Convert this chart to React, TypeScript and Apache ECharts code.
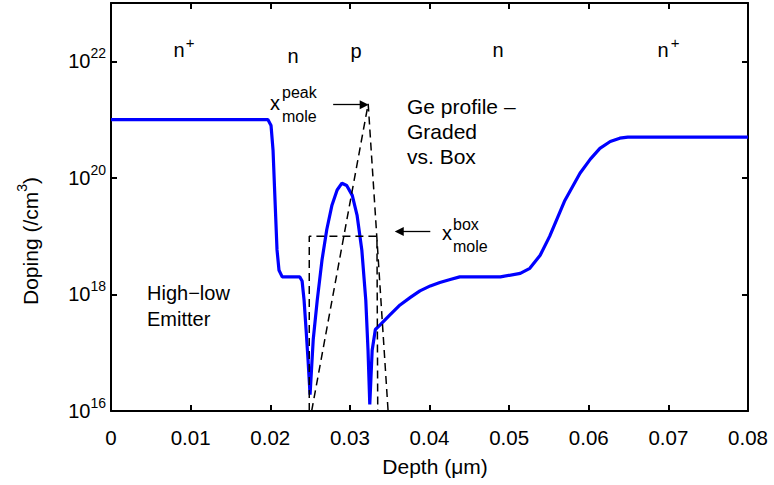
import { useEffect, useRef } from 'react';
import * as echarts from 'echarts';

// Doping profile (depth in µm, doping in /cm^3)
const depthUm = [
  0, 0.0197, 0.0201, 0.02035, 0.0206, 0.02085, 0.0211, 0.0215, 0.0237, 0.024,
  0.02425, 0.0245, 0.02475, 0.025, 0.0254, 0.0259, 0.0265, 0.0271, 0.02775, 0.0284,
  0.029, 0.0296, 0.0303, 0.0309, 0.0315, 0.032, 0.03228, 0.0325, 0.0328, 0.0332,
  0.0338, 0.035, 0.0363, 0.0376, 0.0388, 0.0401, 0.0413, 0.0426, 0.0438, 0.0463,
  0.0489, 0.0514, 0.0526, 0.0539, 0.0551, 0.057, 0.0589, 0.0602, 0.0614, 0.0627,
  0.0639, 0.0649, 0.08,
];
const dopingCm3 = [
  1.0e21, 1.0e21, 7.9e20, 3.0e20, 4.1e19, 5.8e18, 2.6e18, 2.0e18, 2.0e18, 1.7e18,
  7.9e17, 2.5e17, 7.4e16, 1.9e16, 1.7e17, 7.9e17, 3.9e18, 1.3e19, 3.4e19, 6.2e19,
  8.1e19, 7.4e19, 5.0e19, 2.3e19, 5.8e18, 7.9e17, 1.1e17, 1.3e16, 1.1e17, 2.5e17,
  3.0e17, 4.4e17, 6.6e17, 8.9e17, 1.15e18, 1.4e18, 1.6e18, 1.8e18, 2.0e18, 2.0e18,
  2.0e18, 2.3e18, 2.8e18, 4.7e18, 1.0e19, 4.1e19, 1.2e20, 2.1e20, 3.2e20, 4.2e20,
  4.8e20, 5.0e20, 5.0e20,
];

// Ge profiles (dashed): box and graded (triangle)
const boxDepth = [0.0249, 0.0249, 0.0334, 0.0335];
const boxLevel = [1e16, 1.0e19, 1.0e19, 1e16];
const gradedDepth = [0.0252, 0.0323, 0.0348];
const gradedLevel = [1e16, 1.86e21, 1e16];

// Arrows (data coordinates): [fromDepth, fromLevel, toDepth, toLevel]
const peakArrow = [0.0279, 1.8e21, 0.0318, 1.8e21];
const boxArrow = [0.0401, 1.2e19, 0.0362, 1.2e19];

const xTickLabels = ['0', '0.01', '0.02', '0.03', '0.04', '0.05', '0.06', '0.07', '0.08'];
const yTickExponents = [16, 18, 20, 22];

const FONT = 'Liberation Sans, Arial, Helvetica, sans-serif';

function txt(text: string, x: number, y: number, size: number, align: string = 'left') {
  return {
    type: 'text',
    x,
    y,
    silent: true,
    style: { text, fontSize: size, fontFamily: FONT, fill: '#000', align, verticalAlign: 'middle' },
  };
}

export default function App() {
  const ref = useRef<HTMLDivElement>(null);
  useEffect(() => {
    if (!ref.current) return;
    const chart = echarts.init(ref.current, null, { renderer: 'svg' });
    const axisLine = { show: true, onZero: false, lineStyle: { color: '#000', width: 2 } };
    const axisTick = { show: true, inside: true, length: 6, lineStyle: { color: '#000', width: 2 } };
    const xBase = { type: 'value', min: 0, max: 0.08, interval: 0.01, splitLine: { show: false }, axisLine, axisTick };
    const yBase = { type: 'log', logBase: 10, min: 1e16, max: 1e23, interval: 2, splitLine: { show: false }, axisLine, axisTick, minorTick: { show: false } };
    const supRich = {
      b: { fontSize: 20, fontFamily: FONT, color: '#000' },
      s: { fontSize: 14, fontFamily: FONT, color: '#000', padding: [0, 0, 16, 0] },
    };
    chart.setOption({
      animation: false,
      backgroundColor: '#fff',
      grid: { left: 111, right: 26, top: 3, bottom: 74, containLabel: false, outerBoundsMode: 'none' },
      xAxis: [
        {
          ...xBase,
          position: 'bottom',
          axisLabel: {
            margin: 16,
            fontSize: 20.5,
            fontFamily: FONT,
            color: '#000',
            formatter: (v: number) => xTickLabels[Math.round(v / 0.01)] ?? '',
          },
        },
        { ...xBase, position: 'top', axisLabel: { show: false } },
      ],
      yAxis: [
        {
          ...yBase,
          position: 'left',
          axisLabel: {
            margin: 5,
            color: '#000',
            formatter: (v: number) => {
              const e = Math.round(Math.log10(v));
              return yTickExponents.includes(e) ? `{b|10}{s|${e}}` : '';
            },
            rich: supRich,
          },
        },
        { ...yBase, position: 'right', axisLabel: { show: false } },
      ],
      series: [
        {
          type: 'line',
          name: 'Doping',
          data: depthUm.map((d, i) => [d, dopingCm3[i]]),
          showSymbol: false,
          symbol: 'none',
          lineStyle: { color: '#0000ff', width: 3.2 },
          silent: true,
        },
        {
          type: 'line',
          name: 'Box',
          data: boxDepth.map((d, i) => [d, boxLevel[i]]),
          showSymbol: false,
          symbol: 'none',
          lineStyle: { color: '#000', width: 1.5, type: [8, 5] },
          silent: true,
        },
        {
          type: 'line',
          name: 'Graded',
          data: gradedDepth.map((d, i) => [d, gradedLevel[i]]),
          showSymbol: false,
          symbol: 'none',
          lineStyle: { color: '#000', width: 1.5, type: [8, 5] },
          silent: true,
          markLine: {
            silent: true,
            symbol: ['none', 'triangle'],
            symbolSize: 9,
            label: { show: false },
            lineStyle: { color: '#000', width: 1.3, type: 'solid' },
            itemStyle: { color: '#000' },
            emphasis: { disabled: true },
            data: [
              [{ coord: [peakArrow[0], peakArrow[1]] }, { coord: [peakArrow[2], peakArrow[3]] }],
              [{ coord: [boxArrow[0], boxArrow[1]] }, { coord: [boxArrow[2], boxArrow[3]] }],
            ],
          },
        },
      ],
      graphic: [
        txt('n', 179, 50, 20, 'center'),
        txt('+', 190, 42, 15, 'center'),
        txt('n', 293, 56, 20, 'center'),
        txt('p', 356, 51, 20, 'center'),
        txt('n', 498, 50, 20, 'center'),
        txt('n', 663, 50, 20, 'center'),
        txt('+', 675, 42, 15, 'center'),
        txt('x', 270, 103, 20),
        txt('peak', 282, 92.5, 16),
        txt('mole', 282, 116.5, 16),
        txt('Ge profile –', 407, 106, 21),
        txt('Graded', 407, 131, 21),
        txt('vs. Box', 407, 156, 21),
        txt('x', 442, 233, 20),
        txt('box', 453, 224.5, 16),
        txt('mole', 453, 246.5, 16),
        txt('High−low', 147, 293, 20),
        txt('Emitter', 147, 319, 20),
        txt('Depth (μm)', 435, 466, 21, 'center'),
        {
          type: 'text',
          x: 30,
          y: 241,
          rotation: Math.PI / 2,
          silent: true,
          style: {
            text: '{a|Doping (/cm}{s|3}{a|)}',
            align: 'center',
            verticalAlign: 'middle',
            fill: '#000',
            rich: {
              a: { fontSize: 21, fontFamily: FONT, fill: '#000' },
              s: { fontSize: 14, fontFamily: FONT, fill: '#000', padding: [0, 0, 16, 0] },
            },
          },
        },
      ],
    });
    return () => chart.dispose();
  }, []);
  return <div ref={ref} style={{ position: 'fixed', left: 0, top: 0, width: 774, height: 485 }} />;
}
